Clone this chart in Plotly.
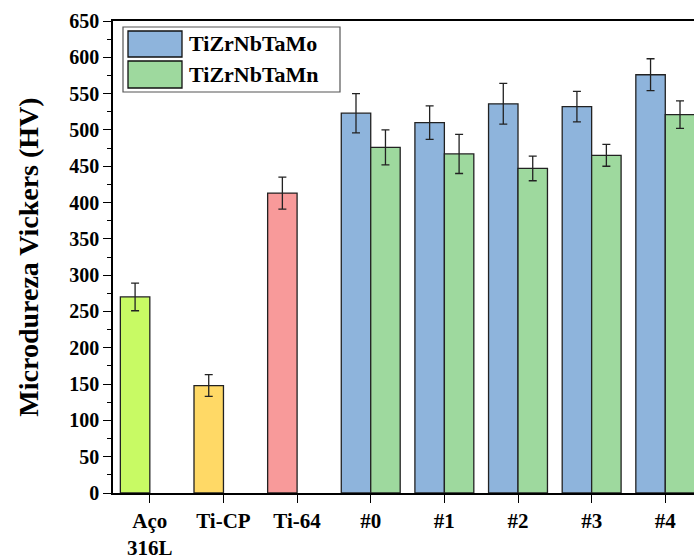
import plotly.graph_objects as go

categories = ["Aço<br>316L", "Ti-CP", "Ti-64", "#0", "#1", "#2", "#3", "#4"]

ref_names = ["Aço<br>316L", "Ti-CP", "Ti-64"]
ref_values = [270, 148, 413]
ref_errors = [19, 15, 22]
ref_colors = ["#C8FA64", "#FFD966", "#F89A9A"]

alloy_cats = ["#0", "#1", "#2", "#3", "#4"]
mo_values = [523, 510, 536, 532, 576]
mo_errors = [27, 23, 28, 21, 22]
mn_values = [476, 467, 447, 465, 521]
mn_errors = [24, 27, 17, 15, 19]

series_names = ["TiZrNbTaMo", "TiZrNbTaMn"]
series_colors = ["#8EB4DC", "#9ED99E"]

FONT = "Liberation Serif"

fig = go.Figure()

for name, v, e, c in zip(ref_names, ref_values, ref_errors, ref_colors):
    fig.add_trace(go.Bar(
        x=[name], y=[v], width=0.4, offset=-0.4,
        marker=dict(color=c, line=dict(color="#222222", width=1.3)),
        error_y=dict(type="data", array=[e], color="#222222", thickness=1.3, width=4),
        showlegend=False, name=name.replace("<br>", " ")))

fig.add_trace(go.Bar(
    x=alloy_cats, y=mo_values, width=0.4, offset=-0.4, name=series_names[0],
    marker=dict(color=series_colors[0], line=dict(color="#222222", width=1.3)),
    error_y=dict(type="data", array=mo_errors, color="#222222", thickness=1.3, width=4),
    showlegend=False))
fig.add_trace(go.Bar(
    x=alloy_cats, y=mn_values, width=0.4, offset=0.0, name=series_names[1],
    marker=dict(color=series_colors[1], line=dict(color="#222222", width=1.3)),
    error_y=dict(type="data", array=mn_errors, color="#222222", thickness=1.3, width=4),
    showlegend=False))

# custom legend (large swatches like the original)
W, H = 694, 560
ml, mr, mt, mb = 113, 0, 21, 67
pw, ph = W - ml - mr, H - mt - mb

def px(x):
    return (x - ml) / pw

def py(y):
    return 1 - (y - mt) / ph

fig.add_shape(type="rect", xref="paper", yref="paper",
              x0=px(123), x1=px(340), y0=py(92), y1=py(27),
              line=dict(color="#555555", width=1.2), fillcolor="white")
for i, (nm, col) in enumerate(zip(series_names, series_colors)):
    y0, y1 = (31, 57) if i == 0 else (61, 88)
    fig.add_shape(type="rect", xref="paper", yref="paper",
                  x0=px(128), x1=px(182), y0=py(y1), y1=py(y0),
                  line=dict(color="#111111", width=1.3), fillcolor=col)
    fig.add_annotation(xref="paper", yref="paper", x=px(187), y=py((y0 + y1) / 2),
                       text="<b>%s</b>" % nm, showarrow=False, xanchor="left",
                       yanchor="middle", font=dict(family=FONT, size=22, color="black"))

fig.update_layout(
    width=W, height=H,
    margin=dict(l=ml, r=mr, t=mt, b=mb),
    paper_bgcolor="white", plot_bgcolor="white",
    barmode="overlay",
    font=dict(family=FONT, color="black"),
    xaxis=dict(
        type="category", categoryorder="array", categoryarray=categories,
        range=[-0.5, 7.39], automargin=False,
        showline=True, linecolor="black", linewidth=1.5, mirror=True,
        ticks="outside", ticklen=8, tickwidth=1.3, tickcolor="black",
        minor=dict(ticks="outside", ticklen=4, tickwidth=1.3, tickcolor="black"),
        tickfont=dict(family=FONT, size=21, color="black"),
        showgrid=False, zeroline=False,
    ),
    yaxis=dict(
        range=[0, 650], tick0=0, dtick=50, automargin=False,
        showline=True, linecolor="black", linewidth=1.5, mirror=True,
        ticks="outside", ticklen=8, tickwidth=1.3, tickcolor="black",
        minor=dict(ticks="outside", ticklen=4, tickwidth=1.3, tickcolor="black", dtick=25),
        tickfont=dict(family=FONT, size=20, color="black"),
        title=dict(text="<b>Microdureza Vickers (HV)</b>", font=dict(family=FONT, size=28, color="black"), standoff=22),
        showgrid=False, zeroline=False,
    ),
)
fig.update_xaxes(tickprefix="<b>", ticksuffix="</b>")
fig.update_yaxes(tickprefix="<b>", ticksuffix="</b>")

fig.write_html("out.html")
